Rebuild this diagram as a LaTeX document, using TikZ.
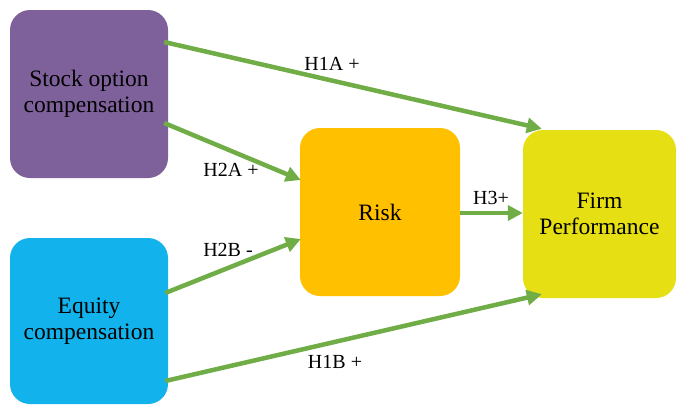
\documentclass[tikz,border=0pt]{standalone}
\usepackage{fontspec}
\setmainfont{Liberation Serif}
\usetikzlibrary{positioning, calc, arrows.meta}
\definecolor{BoxPurple}{HTML}{7E609B}
\definecolor{BoxCyan}  {HTML}{12B3ED}
\definecolor{BoxOrange}{HTML}{FFC000}
\definecolor{BoxYellow}{HTML}{E5DF14}
\definecolor{ArrGreen} {HTML}{70AD47}

\begin{document}
\begin{tikzpicture}[x=1pt, y=-1pt,
    card/.style={rounded corners=20pt, align=center, inner sep=0pt,
                 font=\fontsize{23.5}{26}\selectfont},
    hyp/.style={draw=ArrGreen, line width=4.5pt,
                -{Triangle[length=15pt, width=15pt]}},
    hyplabel/.style={font=\fontsize{20}{22}\selectfont, inner sep=0pt}]
  \useasboundingbox (0,0) rectangle (676,405);
  % Boxes
  \node[card, fill=BoxPurple, minimum width=158pt, minimum height=168pt]
    (stock) at (89,94) {Stock option\\compensation};
  \node[card, fill=BoxCyan, minimum width=158pt, minimum height=166pt]
    (equity) at (89,321) {Equity\\compensation};
  \node[card, fill=BoxOrange, minimum width=160pt, minimum height=168pt]
    (risk) at (380,212) {Risk};
  \node[card, fill=BoxYellow, minimum width=153pt, minimum height=168pt]
    (firm) at (599.5,214) {Firm\\Performance};
  % Hypotheses
  \draw[hyp] ($(stock.east)+(-4,-52)$) -- ($(firm.north west)+(19,-1)$);
  \draw[hyp] ($(stock.east)+(-4,29)$) -- ($(risk.west)+(1,-32)$);
  \draw[hyp] ($(equity.east)+(-3,-28)$) -- ($(risk.west)+(1,27)$);
  \draw[hyp] ($(risk.east)+(0,1)$) -- ($(risk.east -| firm.west)+(0,1)$);
  \draw[hyp] ($(equity.east)+(-3,60)$) -- ($(firm.south west)+(19,-4)$);
  % Labels
  \node[hyplabel] (h1a) at (332,64) {H1A +};
  \node[hyplabel] (h2a) at (231,170) {H2A +};
  \node[hyplabel] (h2b) at (228,250) {H2B -};
  \node[hyplabel] (h3)  at (491,198) {H3+};
  \node[hyplabel] (h1b) at (335,362) {H1B +};
\end{tikzpicture}
\end{document}
